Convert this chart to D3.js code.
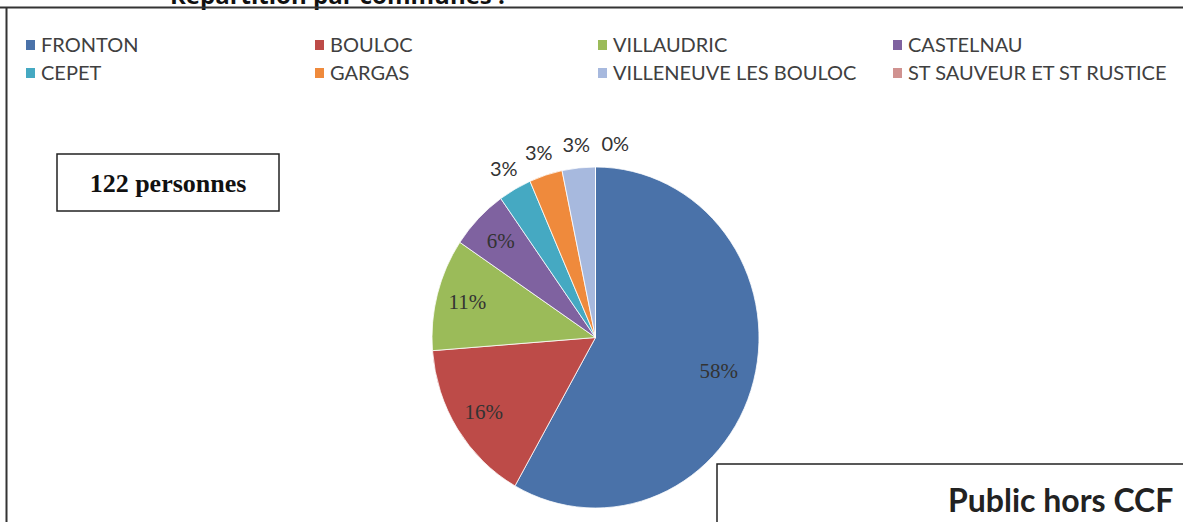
<!DOCTYPE html>
<html><head><meta charset="utf-8">
<script src="https://cdn.jsdelivr.net/npm/d3@7"></script>
<style>body{margin:0;background:#fff}svg{display:block}</style>
</head><body>
<svg id="c" width="1183" height="522"></svg>
<script>
const categories = ["FRONTON","BOULOC","VILLAUDRIC","CASTELNAU","CEPET","GARGAS","VILLENEUVE LES BOULOC","ST SAUVEUR ET ST RUSTICE"];
const counts = [71,19,13,7,4,4,4,0];
const colors = ["#4a72a9","#bd4b48","#9bbb59","#7f62a0","#45a9c2","#ef8a3c","#a7b9de","#d09290"];
const titleText = "Répartition par communes :";
const totalLabel = "122 personnes";
const footerText = "Public hors CCF";

const svg = d3.select("#c");
const total = d3.sum(counts);

// title (cut off at top)
svg.append("text").attr("x",170).attr("y",4).attr("font-family","Open Sans").attr("font-weight","bold").attr("font-size",24).attr("fill","#111").text(titleText);

// frame
svg.append("path").attr("d","M0,7.5H1183M6.5,7.5V522").attr("stroke","#333").attr("stroke-width",2).attr("fill","none");

// legend
const colX = [26,315,598,893], rowY=[45,73];
const leg = svg.append("g");
categories.forEach((c,i)=>{
  const x=colX[i%4], y=rowY[Math.floor(i/4)];
  leg.append("rect").attr("x",x).attr("y",y-5).attr("width",9).attr("height",10).attr("fill",colors[i]);
  leg.append("text").attr("x",x+15).attr("y",y+7).attr("font-family","Lato").attr("font-size",20).attr("fill","#404040").text(c);
});

// pie (slightly elliptical, as in the picture)
const cx=595.5, cy=337.5, rx=163.5, ry=170.5, r=170.5;
const sx = rx/r;
const pie = d3.pie().sort(null).value(d=>d)(counts);
const arc = d3.arc().innerRadius(0).outerRadius(r);
const g = svg.append("g").attr("transform",`translate(${cx},${cy})`);
g.append("g").attr("transform",`scale(${sx},1)`)
 .selectAll("path").data(pie).join("path").attr("d",arc).attr("fill",(d,i)=>colors[i]).attr("stroke","#fff").attr("stroke-width",0.8);

const pct = v => Math.round(v/total*100)+"%";
pie.forEach((d,i)=>{
  const share = d.value/total;
  const inside = share > 0.05;
  const k = inside ? (share > 0.5 ? 0.78 : 0.81) : 1.14;
  let [x,y] = d3.arc().innerRadius(r*k).outerRadius(r*k).centroid(d);
  x *= sx;
  let anchor = "middle";
  if (d.value === 0) { anchor = "start"; x += 6; }
  g.append("text").attr("x",x).attr("y",y).attr("text-anchor",anchor).attr("dominant-baseline","central")
   .attr("font-family", inside ? "Liberation Serif" : "Lato").attr("font-size", inside ? 21 : 20).attr("fill","#333").text(pct(d.value));
});

// box 122 personnes
svg.append("rect").attr("x",57).attr("y",154).attr("width",222).attr("height",57).attr("fill","#fff").attr("stroke","#222").attr("stroke-width",1.5);
svg.append("text").attr("x",168).attr("y",192).attr("text-anchor","middle").attr("font-family","Liberation Serif").attr("font-weight","bold").attr("font-size",26).attr("fill","#111").text(totalLabel);

// bottom box
svg.append("rect").attr("x",717).attr("y",464).attr("width",480).attr("height",80).attr("fill","#fff").attr("stroke","#222").attr("stroke-width",1.5);
svg.append("text").attr("x",948).attr("y",512).attr("font-family","Lato").attr("font-weight","bold").attr("font-size",32).attr("fill","#222").text(footerText);
</script>
</body></html>
